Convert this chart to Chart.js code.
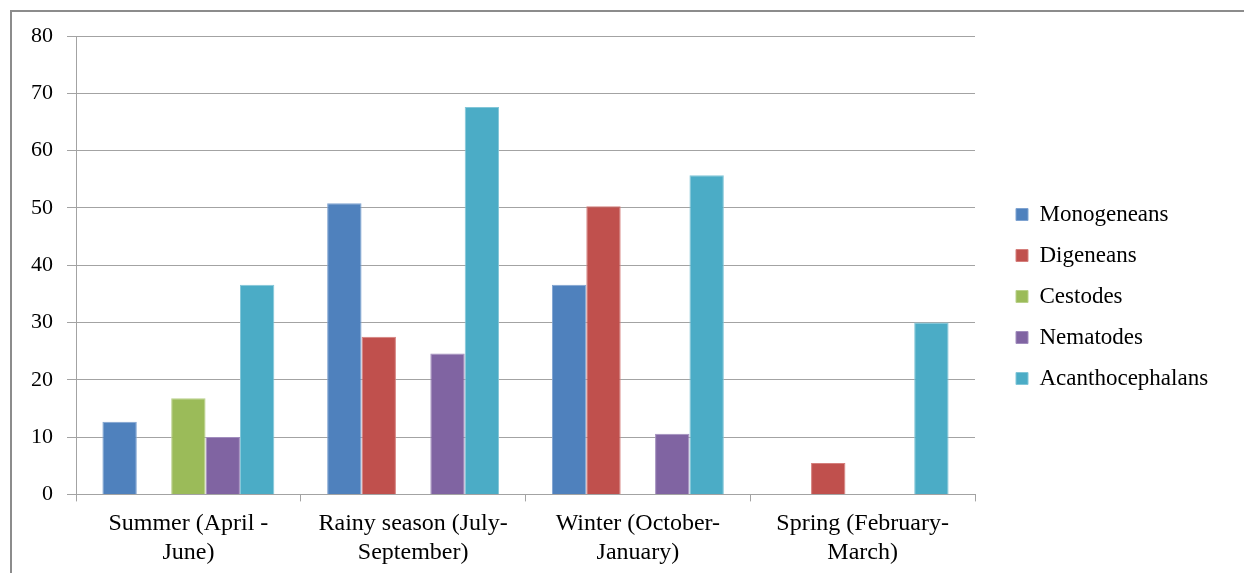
<!DOCTYPE html>
<html>
<head>
<meta charset="utf-8">
<script src="https://cdn.jsdelivr.net/npm/chart.js@4.4.1/dist/chart.umd.min.js"></script>
<style>
  html, body { margin: 0; padding: 0; background: #fff; }
  #wrap { position: relative; width: 1244px; height: 573px; overflow: hidden; }
  #frame { position: absolute; left: 10px; top: 10px; right: -10px; bottom: -10px;
           border-left: 2px solid #8c8c8c; border-top: 2px solid #8c8c8c; }
  canvas { position: absolute; left: 0; top: 0; }
</style>
</head>
<body>
<div id="wrap">
  <div id="frame"></div>
  <canvas id="chart" width="1244" height="573"></canvas>
</div>
<script>
// Seasons (two-line tick labels)
const seasons = [
  ['Summer (April -', 'June)'],
  ['Rainy season (July-', 'September)'],
  ['Winter (October-', 'January)'],
  ['Spring (February-', 'March)']
];

// Prevalence (%) of each parasite group per season
const monogeneans      = [12.7, 50.8, 36.6, 0];
const digeneans        = [0, 27.5, 50.3, 5.5];
const cestodes         = [16.8, 0, 0, 0];
const nematodes        = [10.0, 24.6, 10.6, 0];
const acanthocephalans = [36.6, 67.6, 55.7, 30.0];

const groupNames  = ['Monogeneans', 'Digeneans', 'Cestodes', 'Nematodes', 'Acanthocephalans'];
const groupColors = ['#4F81BD', '#C0504D', '#9BBB59', '#8064A2', '#4BACC6'];
const edgeColors  = ['#7fa3d1', '#d57f7c', '#b9d08a', '#a18dbd', '#82c6d8'];

const yTicks = { min: 0, max: 80, step: 10 };

const serif = "'Liberation Serif', 'Times New Roman', serif";
const gridGray = '#a3a3a3';

// Legend column: reserve its width and inset the swatches from the plot edge
const legendColumnWidth = 269;
const legendInset = 41;
const legendRaise = 9;
const legendLayout = {
  id: 'legendLayout',
  beforeLayout(chart) {
    const lg = chart.legend;
    if (lg && !lg._fixedWidth) {
      const fit = lg.fit;
      lg.fit = function () {
        fit.call(this);
        this.width = legendColumnWidth;
      };
      lg._fixedWidth = true;
    }
  },
  afterLayout(chart) {
    const lg = chart.legend;
    const pad = lg.options.labels.padding;
    const dx = chart.chartArea.right + legendInset - pad - lg.left;
    lg.left += dx;
    lg.right += dx;
    lg.top -= legendRaise;
    lg.bottom -= legendRaise;
  }
};

const seriesValues = [monogeneans, digeneans, cestodes, nematodes, acanthocephalans];

new Chart(document.getElementById('chart'), {
  type: 'bar',
  data: {
    labels: seasons,
    datasets: seriesValues.map((vals, i) => ({
      label: groupNames[i],
      data: vals,
      backgroundColor: groupColors[i],
      borderColor: edgeColors[i],
      borderWidth: 1,
      categoryPercentage: 0.765,
      barPercentage: 1.0
    }))
  },
  options: {
    responsive: false,
    devicePixelRatio: 1,
    animation: false,
    layout: { padding: { left: 17, top: 36, bottom: -2, right: 0 } },
    plugins: {
      tooltip: { enabled: false },
      legend: {
        position: 'right',
        align: 'center',
        labels: {
          font: { family: serif, size: 23 },
          color: '#000',
          boxWidth: 12,
          boxHeight: 12,
          padding: 18
        }
      }
    },
    scales: {
      x: {
        offset: true,
        grid: {
          offset: true,
          drawOnChartArea: false,
          drawTicks: true,
          tickLength: 7,
          color: gridGray,
          lineWidth: 1
        },
        border: { display: true, color: gridGray, width: 1 },
        ticks: {
          font: { family: serif, size: 24, lineHeight: 1.2 },
          color: '#000',
          padding: 8,
          maxRotation: 0,
          autoSkip: false
        }
      },
      y: {
        min: yTicks.min,
        max: yTicks.max,
        grid: {
          color: gridGray,
          lineWidth: 1,
          drawTicks: true,
          tickLength: 9
        },
        border: { display: true, color: gridGray, width: 1 },
        ticks: {
          stepSize: yTicks.step,
          font: { family: serif, size: 22 },
          color: '#000',
          padding: 14
        }
      }
    }
  },
  plugins: [legendLayout]
});
</script>
</body>
</html>
